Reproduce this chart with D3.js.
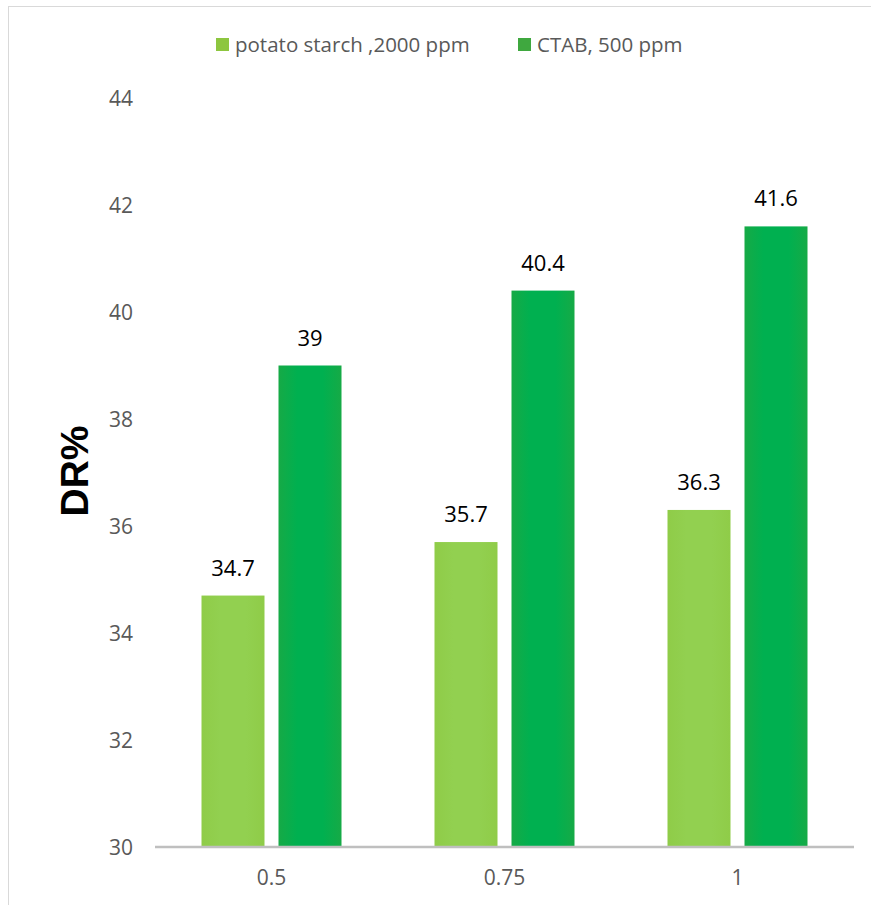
<!DOCTYPE html>
<html>
<head>
<meta charset="utf-8">
<script src="https://cdn.jsdelivr.net/npm/d3@7"></script>
<style>
  html, body { margin: 0; padding: 0; background: #fff; }
  svg { display: block; }
</style>
</head>
<body>
<svg id="chart" width="871" height="905"></svg>
<script>
// Drag reduction by additive concentration
const categories = ["0.5", "0.75", "1"];
const seriesNames = ["potato starch ,2000 ppm", "CTAB, 500 ppm"];
const starchValues = [34.7, 35.7, 36.3];
const ctabValues = [39, 40.4, 41.6];
const yTicks = [30, 32, 34, 36, 38, 40, 42, 44];

const colors = ["#92D050", "#00B050"];
const legendColors = ["#8DC63F", "#3FA83F"];

const svg = d3.select("#chart");
const W = 871, H = 905;
const margin = { left: 155, right: 17, top: 98, bottom: 58 };
const plotW = W - margin.left - margin.right;
const plotH = H - margin.top - margin.bottom;

const font = "'Open Sans', 'Noto Sans', sans-serif";

// chart frame
svg.append("rect")
  .attr("x", 8.5).attr("y", 6.5)
  .attr("width", W + 20).attr("height", H + 20)
  .attr("fill", "#fff").attr("stroke", "#d9d9d9").attr("stroke-width", 1);

// gradients for the bar shading
const defs = svg.append("defs");
colors.forEach((c, i) => {
  const g = defs.append("linearGradient").attr("id", "grad" + i)
    .attr("x1", "0%").attr("x2", "100%").attr("y1", "0%").attr("y2", "0%");
  const base = d3.color(c);
  const edge = i === 0 ? d3.rgb(143, 204, 72) : d3.rgb(22, 170, 70);
  g.append("stop").attr("offset", "0%").attr("stop-color", edge.formatHex());
  g.append("stop").attr("offset", "30%").attr("stop-color", base.formatHex());
  g.append("stop").attr("offset", "70%").attr("stop-color", base.formatHex());
  g.append("stop").attr("offset", "100%").attr("stop-color", edge.formatHex());
});

const x = d3.scaleBand().domain(categories)
  .range([margin.left, margin.left + plotW]).paddingInner(0).paddingOuter(0);
const y = d3.scaleLinear().domain([30, 44]).range([margin.top + plotH, margin.top]);

const barW = 63, gap = 14;
const data = categories.map((c, i) => ({ cat: c, vals: [starchValues[i], ctabValues[i]] }));

const groups = svg.append("g").selectAll("g").data(data).join("g");
groups.each(function(d) {
  const g = d3.select(this);
  const cx = x(d.cat) + x.bandwidth() / 2;
  d.vals.forEach((v, s) => {
    const bx = s === 0 ? cx - gap / 2 - barW : cx + gap / 2;
    g.append("rect")
      .attr("x", bx).attr("width", barW)
      .attr("y", y(v)).attr("height", y(30) - y(v))
      .attr("fill", `url(#grad${s})`);
    g.append("text")
      .attr("x", bx + barW / 2).attr("y", y(v) - 20)
      .attr("text-anchor", "middle")
      .attr("font-family", font).attr("font-size", 22)
      .attr("fill", "#000")
      .text(v);
  });
});

// y axis labels (no axis line)
const yAxis = d3.axisLeft(y).tickValues(yTicks).tickSize(0).tickPadding(0).tickFormat(d3.format("d"));
const yg = svg.append("g").attr("transform", `translate(${margin.left - 22},0)`).call(yAxis);
yg.select(".domain").remove();
yg.selectAll("text").attr("font-family", font).attr("font-size", 21).attr("fill", "#595959")
  .attr("dy", "0.35em");

// x axis
const xAxis = d3.axisBottom(x).tickSize(0).tickPadding(0);
const xg = svg.append("g").attr("transform", `translate(0,${y(30)})`).call(xAxis);
xg.select(".domain").attr("stroke", "#bfbfbf").attr("stroke-width", 2.5)
  .attr("d", `M${margin.left},0H${margin.left + plotW}`);
xg.selectAll("text").attr("font-family", font).attr("font-size", 21).attr("fill", "#595959")
  .attr("y", 31).attr("dy", "0.35em");

// y title
svg.append("text")
  .attr("transform", `translate(88,${471}) rotate(-90)`)
  .attr("text-anchor", "middle")
  .attr("font-family", "'Liberation Sans', Arial, sans-serif")
  .attr("font-weight", "bold").attr("font-size", 39)
  .attr("fill", "#000")
  .text("DR%");

// legend
const legend = svg.append("g");
const legendItems = [
  { name: seriesNames[0], color: legendColors[0], x: 216 },
  { name: seriesNames[1], color: legendColors[1], x: 518 }
];
legendItems.forEach(it => {
  legend.append("rect").attr("x", it.x).attr("y", 38).attr("width", 13).attr("height", 13)
    .attr("fill", it.color);
  legend.append("text").attr("x", it.x + 19).attr("y", 52)
    .attr("font-family", font).attr("font-size", 20.5).attr("fill", "#595959")
    .text(it.name);
});
</script>
</body>
</html>
